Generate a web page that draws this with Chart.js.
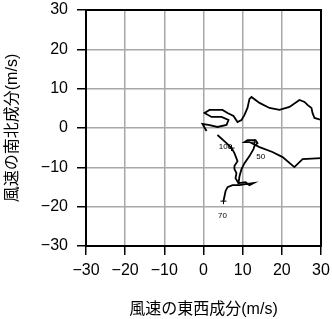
<!DOCTYPE html>
<html>
<head>
<meta charset="utf-8">
<script src="https://cdn.jsdelivr.net/npm/chart.js@4"></script>
<style>
html,body{margin:0;padding:0;background:#fff;}
canvas{display:block;}
</style>
</head>
<body>
<canvas id="c" width="332" height="319"></canvas>
<script>
// Wind hodograph (u: east-west, v: north-south), m/s
const uMain = [0.77,-0.26,1.28,3.57,5.87,6.38,4.6,2.04,0.26,1.53,4.85,6.13,7.66,8.68,9.7,10.47,11.23,11.74,12.25,14.3,16.85,19.4,21.96,24.5,25.8,26.55,27.57,27.83,28.34,30.1,32.2,32.7,30.1,25.3,23.2,20.2,17.6,14.3,11.74,10.47,11.23,13.28,13.79,13.0,12.76,11.74,10.47,9.7,9.19,8.94,10.72,11.74,12.76,10.72,9.19,7.4,6.13,5.62,5.36,5.1,null,3.57,5.87,7.15,7.9,8.68,7.9,7.9,8.42,8.17,8.94];
const vMain = [-0.77,1.02,0.77,0.26,0.77,2.04,2.81,2.81,3.83,4.59,4.59,3.83,3.06,1.53,2.04,3.32,5.1,7.4,7.9,6.38,5.1,4.59,5.36,7.14,6.63,5.87,5.1,3.83,2.55,2.04,1.5,-5.6,-7.65,-7.9,-9.95,-7.4,-6.1,-4.85,-3.57,-3.57,-3.06,-3.06,-3.83,-4.6,-5.36,-7.14,-8.93,-10.46,-12.24,-14.03,-13.78,-14.54,-14.03,-14.29,-14.54,-14.54,-15.05,-16.07,-17.35,-18.6,null,-1.79,-3.83,-5.1,-6.38,-8.42,-9.69,-10.46,-11.48,-12.76,-14.03];
// pressure level markers (hPa)
const levelNames = ["100","50","70"];
const levelU = [5.6,14.6,4.85];
const levelV = [-4.85,-7.4,-22.2];
const markU = [7.15,13.0,5.1];
const markV = [-5.1,-3.6,-18.6];
const tickValues = [-30,-20,-10,0,10,20,30];

const mainPts = uMain.map((u,i)=> (u===null? {x:null,y:null} : {x:u,y:vMain[i]}));
const markPts = markU.map((u,i)=>({x:u,y:markV[i]}));

const frame = {
  id:'frame',
  afterDatasetsDraw(chart){
    const {ctx, chartArea:a, scales} = chart;
    ctx.save();
    ctx.font = '8px "Liberation Sans", Arial, sans-serif';
    ctx.fillStyle = '#000';
    ctx.textAlign = 'center'; ctx.textBaseline = 'middle';
    levelNames.forEach((t,i)=>{
      ctx.fillText(t, scales.x.getPixelForValue(levelU[i]), scales.y.getPixelForValue(levelV[i]));
    });
    ctx.strokeStyle = '#000'; ctx.lineWidth = 2;
    ctx.strokeRect(a.left, a.top, a.right-a.left, a.bottom-a.top);
    ctx.restore();
  }
};

new Chart(document.getElementById('c'), {
  type:'scatter',
  data:{datasets:[
    {data:mainPts, showLine:true, spanGaps:false, borderColor:'#000', borderWidth:1.8, pointRadius:0, tension:0, fill:false},
    {data:markPts, showLine:false, pointStyle:'cross', pointRadius:3, borderColor:'#000', borderWidth:1}
  ]},
  options:{
    responsive:false, animation:false, devicePixelRatio:1,
    layout:{padding:{top:10,right:11,left:0,bottom:0}},
    plugins:{legend:{display:false}, tooltip:{enabled:false}},
    scales:{
      x:{type:'linear', min:-30, max:30,
        afterBuildTicks(s){ s.ticks = tickValues.map(v=>({value:v})); },
        afterFit(s){ s.height = 73; s.paddingLeft = 0; s.paddingRight = 0; },
        grid:{color:'#a8a8a8', lineWidth:1.5, tickColor:'#000', tickLength:9, tickWidth:1.5, drawTicks:true},
        border:{display:true, color:'#000', width:2},
        ticks:{color:'#000', padding:6, maxRotation:0, font:{family:'"Liberation Sans", Arial, sans-serif', size:16},
          callback:v=>String(v).replace('-','\u2212')},
        title:{display:true, text:'風速の東西成分(m/s)', color:'#000', padding:{top:3,bottom:0},
          font:{family:'"Liberation Sans", "Noto Sans CJK JP", sans-serif', size:16}}
      },
      y:{type:'linear', min:-30, max:30,
        afterBuildTicks(s){ s.ticks = tickValues.map(v=>({value:v})); },
        afterFit(s){ s.width = 86; s.paddingTop = 0; s.paddingBottom = 0; },
        grid:{color:'#a8a8a8', lineWidth:1.5, tickColor:'#000', tickLength:9, tickWidth:1.5, drawTicks:true},
        border:{display:true, color:'#000', width:2},
        ticks:{color:'#000', padding:9, font:{family:'"Liberation Sans", Arial, sans-serif', size:16},
          callback:v=>String(v).replace('-','\u2212')},
        title:{display:true, text:'風速の南北成分(m/s)', color:'#000', padding:{top:3,bottom:0},
          font:{family:'"Liberation Sans", "Noto Sans CJK JP", sans-serif', size:16}}
      }
    }
  },
  plugins:[frame]
});
</script>
</body>
</html>
